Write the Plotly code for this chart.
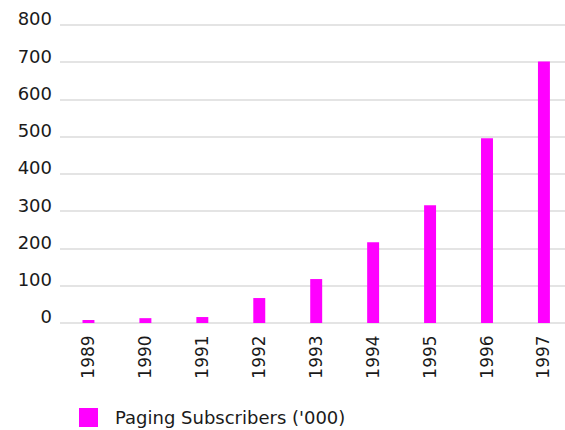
import plotly.graph_objects as go

years = ["1989", "1990", "1991", "1992", "1993", "1994", "1995", "1996", "1997"]
subscribers = [8, 13, 16, 67, 118, 217, 316, 496, 702]
y_ticks = [0, 100, 200, 300, 400, 500, 600, 700, 800]
series_name = "Paging Subscribers ('000)"

MAGENTA = "#ff00ff"
GRID = "#e4e4e4"
TEXT = "#1a1a1a"

W, H = 565, 430
ML, MR, MT, MB = 60, 0, 23, 107
plot_w = W - ML - MR
plot_h = H - MT - MB
# keep the top gridline just inside the plot area
y_top = 800 * plot_h / 298.0

fig = go.Figure()
fig.add_trace(go.Bar(
    x=years,
    y=subscribers,
    name=series_name,
    marker=dict(color=MAGENTA, line=dict(width=0)),
    showlegend=False,
))

# legend drawn manually: square swatch plus label beneath the axis
def px_x(px):
    return (px - ML) / plot_w

def px_y(py):
    return (H - MB - py) / plot_h

fig.add_shape(
    type="rect", xref="paper", yref="paper",
    x0=px_x(79), x1=px_x(98), y0=px_y(427), y1=px_y(408),
    fillcolor=MAGENTA, line=dict(width=0),
)
fig.add_annotation(
    text=series_name, xref="paper", yref="paper",
    x=px_x(113), y=px_y(417.5), xanchor="left", yanchor="middle",
    showarrow=False, font=dict(family="DejaVu Sans", size=18, color=TEXT),
)

fig.update_layout(
    width=W, height=H,
    margin=dict(l=ML, r=MR, t=MT, b=MB),
    paper_bgcolor="white", plot_bgcolor="white",
    bargap=0.79,
    font=dict(family="DejaVu Sans", color=TEXT),
    xaxis=dict(
        type="category",
        range=[-0.5, 8.37],
        tickangle=-90,
        showgrid=False, showline=False, zeroline=False,
        ticks="", ticklabelstandoff=8,
        tickfont=dict(family="DejaVu Sans", size=17, color=TEXT),
    ),
    yaxis=dict(
        range=[0, y_top],
        tickvals=y_ticks,
        showgrid=True, gridcolor=GRID, gridwidth=1.5,
        zeroline=True, zerolinecolor=GRID, zerolinewidth=1.5,
        showline=False, ticks="",
        ticklabelstandoff=7, ticklabelshift=-6,
        tickfont=dict(family="DejaVu Sans", size=18, color=TEXT),
    ),
)

fig.write_html("out.html")
